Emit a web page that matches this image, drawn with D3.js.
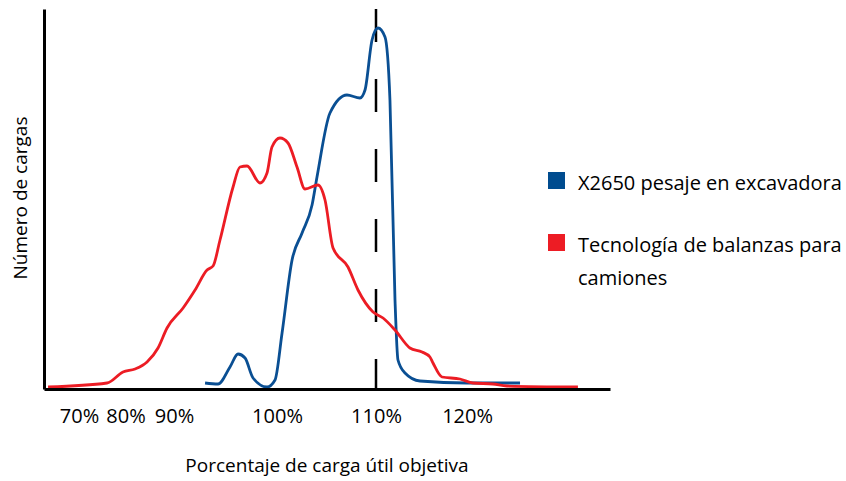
<!DOCTYPE html>
<html>
<head>
<meta charset="utf-8">
<script src="https://cdn.jsdelivr.net/npm/d3@7"></script>
<style>
  body { margin: 0; background: #fff; }
  text { font-family: "Open Sans", "Noto Sans", sans-serif; fill: #000; }
</style>
</head>
<body>
<div id="chart"></div>
<script>
// payload percentage vs number of loads
const truckPct = [76.87, 82.83, 84.44, 85.66, 86.87, 87.98, 88.89, 90.51, 91.72, 92.93, 93.54, 94.24, 95.56,
    96.26, 96.97, 98.28, 98.99, 99.49, 100.3, 101.11, 102.02, 102.83, 104.14, 104.85, 105.66, 107.17,
    108.18, 109.7, 110.71, 111.92, 113.43, 114.65, 115.45, 115.76, 116.67, 118.48, 119.8, 121.82, 123.23, 130.4];
const truckLoads = [2, 6, 17, 20, 27, 41, 61, 81, 99, 119, 123, 149, 202,
    222, 223, 206, 216, 242, 251, 246, 222, 200, 204, 189, 141, 122,
    99, 77, 71, 59, 41, 37, 32, 26, 12, 10, 6, 5, 3, 2];

const x2650Pct = [92.73, 94.04, 95.25, 96.06, 96.77, 97.58, 98.99, 99.8, 100.51, 101.52, 102.53, 103.54, 104.04,
    105.35, 107.07, 108.38, 108.89, 109.6, 110.2, 110.91, 111.41, 111.92, 112.22, 112.93, 114.44, 119.19, 124.55];
const x2650Loads = [6, 5, 22, 35, 31, 11, 2, 9, 56, 129, 156, 184, 212,
    276, 294, 291, 299, 349, 361, 352, 289, 89, 29, 16, 8, 6, 6];

const targetPct = 110;

const tickValues = [80.0, 84.7, 89.6, 100, 110, 119.2];
const tickLabels = ["70%", "80%", "90%", "100%", "110%", "120%"];

const seriesNames = ["X2650 pesaje en excavadora", "Tecnología de balanzas para camiones"];
const seriesColors = ["#0a4f93", "#ec1c24"];
const legendColors = ["#004c8f", "#ed1c24"];

const width = 846, height = 481;

const svg = d3.select("#chart").append("svg")
    .attr("width", width)
    .attr("height", height);

const x = d3.scaleLinear().domain([76.46, 133.64]).range([44, 610]);
const y = d3.scaleLinear().domain([0, 380]).range([389, 9]);

// dashed target line
svg.append("line")
    .attr("x1", x(targetPct)).attr("x2", x(targetPct))
    .attr("y1", y(380)).attr("y2", y(0))
    .attr("stroke", "#000")
    .attr("stroke-width", 2.5)
    .attr("stroke-dasharray", "33,37");

const line = d3.line()
    .x(d => x(d[0]))
    .y(d => y(d[1]))
    .curve(d3.curveMonotoneX);

const x2650Data = d3.zip(x2650Pct, x2650Loads);
const truckData = d3.zip(truckPct, truckLoads);

svg.append("path")
    .datum(x2650Data)
    .attr("d", line)
    .attr("fill", "none")
    .attr("stroke", seriesColors[0])
    .attr("stroke-width", 2.8);

svg.append("path")
    .datum(truckData)
    .attr("d", line)
    .attr("fill", "none")
    .attr("stroke", seriesColors[1])
    .attr("stroke-width", 2.8);

// axes are bare lines, labels sit under the bottom one
const xAxis = svg.append("g")
    .attr("transform", `translate(0,${y(0)})`)
    .call(d3.axisBottom(x)
        .tickValues(tickValues)
        .tickFormat((d, i) => tickLabels[i])
        .tickSize(0)
        .tickSizeOuter(0)
        .tickPadding(20));
xAxis.select(".domain").attr("stroke", "#000").attr("stroke-width", 3);
xAxis.selectAll("text")
    .style("font-family", "'Open Sans', sans-serif")
    .style("font-size", "20px")
    .attr("fill", "#000");

const yAxis = svg.append("g")
    .attr("transform", `translate(${x.range()[0]},0)`)
    .call(d3.axisLeft(y).tickValues([]).tickSizeOuter(0));
yAxis.select(".domain").attr("stroke", "#000").attr("stroke-width", 3);

svg.append("text")
    .attr("x", 327)
    .attr("y", 472)
    .attr("text-anchor", "middle")
    .style("font-size", "19px")
    .text("Porcentaje de carga útil objetiva");

svg.append("text")
    .attr("transform", "translate(27,198) rotate(-90)")
    .attr("text-anchor", "middle")
    .style("font-size", "19px")
    .text("Número de cargas");

// legend
const legendRows = [
    { lines: ["X2650 pesaje en excavadora"], top: 172 },
    { lines: ["Tecnología de balanzas para", "camiones"], top: 234 }
];

const item = svg.append("g").selectAll("g")
    .data(legendRows)
    .enter().append("g")
    .attr("transform", d => `translate(548,${d.top})`);

item.append("rect")
    .attr("width", 17)
    .attr("height", 17)
    .attr("fill", (d, i) => legendColors[i]);

item.append("text")
    .attr("y", 18)
    .style("font-size", "20px")
    .selectAll("tspan")
    .data(d => d.lines)
    .enter().append("tspan")
    .attr("x", 30)
    .attr("dy", (d, i) => i === 0 ? 0 : 33)
    .text(d => d);
</script>
</body>
</html>
